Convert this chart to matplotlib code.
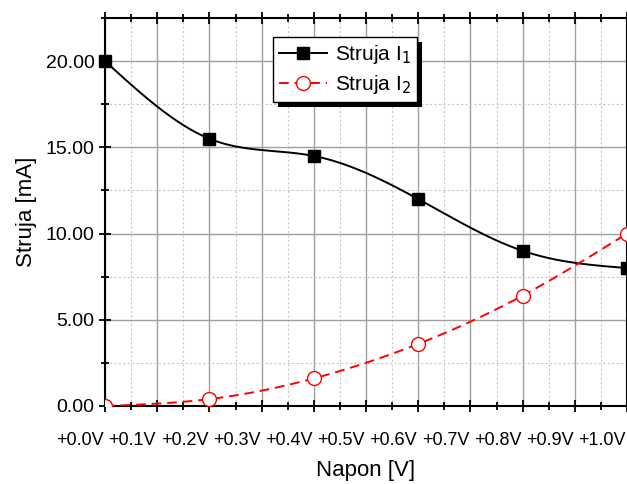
import numpy as np
import matplotlib.pyplot as plt
from matplotlib.ticker import MultipleLocator, FuncFormatter
from matplotlib.transforms import ScaledTranslation
from matplotlib.patches import Rectangle

# podaci
napon = [0.0, 0.2, 0.4, 0.6, 0.8, 1.0]
struja_i1 = [20.0, 15.5, 14.5, 12.0, 9.0, 8.0]
struja_i2 = [0.0, 0.4, 1.6, 3.6, 6.4, 10.0]
x_ticks = [0.0, 0.1, 0.2, 0.3, 0.4, 0.5, 0.6, 0.7, 0.8, 0.9, 1.0]
y_ticks = [0.0, 5.0, 10.0, 15.0, 20.0]


def spline(x, y, n=200):
    # prirodni kubni spline, samo za crtanje glatke linije
    x = np.asarray(x, float)
    y = np.asarray(y, float)
    k = len(x)
    h = np.diff(x)
    A = np.zeros((k, k))
    b = np.zeros(k)
    A[0, 0] = A[-1, -1] = 1
    for i in range(1, k - 1):
        A[i, i - 1] = h[i - 1]
        A[i, i] = 2 * (h[i - 1] + h[i])
        A[i, i + 1] = h[i]
        b[i] = 6 * ((y[i + 1] - y[i]) / h[i] - (y[i] - y[i - 1]) / h[i - 1])
    m = np.linalg.solve(A, b)
    xs = np.linspace(x[0], x[-1], n)
    idx = np.clip(np.searchsorted(x, xs) - 1, 0, k - 2)
    t = xs - x[idx]
    hi = h[idx]
    a = (y[idx + 1] - y[idx]) / hi - hi * (2 * m[idx] + m[idx + 1]) / 6
    ys = y[idx] + a * t + m[idx] / 2 * t ** 2 + (m[idx + 1] - m[idx]) / (6 * hi) * t ** 3
    return xs, ys


plt.rcParams['font.family'] = ['Liberation Sans', 'DejaVu Sans']

fig = plt.figure(figsize=(6.27, 4.84), dpi=100)
ax = fig.add_axes([105 / 627, 1 - 406 / 484, 1 - 105 / 627, (406 - 18) / 484])

ax.set_xlim(0, 1.0)
ax.set_ylim(0, 22.5)

ax.xaxis.set_minor_locator(MultipleLocator(0.05))
ax.yaxis.set_minor_locator(MultipleLocator(2.5))
ax.set_xticks(x_ticks)
ax.set_yticks(y_ticks)
ax.xaxis.set_major_formatter(FuncFormatter(lambda v, p: '+%.1fV' % v))
ax.yaxis.set_major_formatter(FuncFormatter(lambda v, p: '%.2f' % v))

ax.grid(which='major', color='#a0a0a0', lw=1.0, ls='-')
ax.grid(which='minor', color='#c8c8c8', lw=0.8, ls=(0, (2, 2)))
ax.set_axisbelow(True)

ax.tick_params(which='both', direction='inout', top=True, right=False, width=1.3)
ax.tick_params(which='major', length=9)
ax.tick_params(axis='x', which='major', pad=14, labelsize=13)
ax.tick_params(axis='y', which='major', pad=3, labelsize=14)
ax.tick_params(which='minor', length=6)
for s in ax.spines.values():
    s.set_linewidth(1.5)

# oznake na x osi pomaknute ulijevo kao u originalu
for lab in ax.get_xticklabels():
    lab.set_transform(lab.get_transform() + ScaledTranslation(-0.25, 0, fig.dpi_scale_trans))

xs, ys = spline(napon, struja_i1)
ax.plot(xs, ys, color='black', lw=1.4, zorder=3)
ax.plot(napon, struja_i1, ls='none', marker='s', ms=8.5, color='black', zorder=4, clip_on=False)
ax.plot([], [], color='black', lw=1.4, marker='s', ms=8.5, label='Struja I$_1$')

xs2, ys2 = spline(napon, struja_i2)
ax.plot(xs2, ys2, color='red', lw=1.4, ls=(0, (5, 3)), zorder=3)
ax.plot(napon, struja_i2, ls='none', marker='o', ms=10, mfc='white', mec='red', mew=1.0, zorder=4)
ax.plot([], [], color='red', lw=1.4, ls=(0, (5, 3)), marker='o', ms=10, mfc='white', mec='red',
        label='Struja I$_2$')

leg = ax.legend(loc='upper left', bbox_to_anchor=(0.322, 0.952), fontsize=15, frameon=True,
                fancybox=False, edgecolor='black', framealpha=1, handlelength=2.3,
                handletextpad=0.35, borderpad=0.3, labelspacing=0.35, borderaxespad=0)
leg.get_frame().set_linewidth(1.0)
leg.set_zorder(10)

ax.set_xlabel('Napon [V]', fontsize=16, labelpad=8)
ax.set_ylabel('Struja [mA]', fontsize=16, labelpad=6)

# sjena legende
fig.canvas.draw()
bb = leg.get_frame().get_window_extent()
sh = Rectangle((bb.x0 + 5, bb.y0 - 5), bb.width, bb.height, transform=None,
               facecolor='black', edgecolor='none', zorder=9)
ax.add_artist(sh)

fig.savefig('out.png', dpi=100)
